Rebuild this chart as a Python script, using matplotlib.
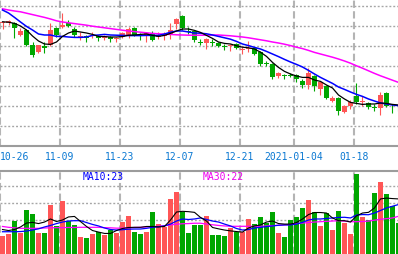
import numpy as np
import pandas as pd
import matplotlib
matplotlib.use("Agg")
import matplotlib.pyplot as plt
from matplotlib.transforms import blended_transform_factory

# trading days 2020-10-26 .. 2021-01-27 (2021-01-01 closed)
days = pd.bdate_range("2020-10-26", "2021-01-27")
days = days[days != pd.Timestamp("2021-01-01")]

open_ = [16.15, 16.15, 16.15, 15.55, 15.80, 15.05, 14.70, 15.00, 15.05, 15.90,
         15.97, 16.15, 15.85, 15.47, 15.50, 15.52, 15.50, 15.42, 15.45, 15.37,
         15.45, 15.55, 15.90, 15.57, 15.50, 15.60, 15.47, 15.50, 15.55, 16.10,
         16.50, 15.75, 15.75, 15.20, 15.15, 15.20, 15.15, 15.00, 15.00, 15.10,
         14.82, 14.87, 14.90, 14.70, 14.17, 14.10, 13.50, 13.57, 13.57, 13.55,
         13.27, 13.05, 13.50, 12.85, 13.00, 12.27, 12.40, 11.70, 12.00, 12.50,
         12.20, 12.17, 11.95, 11.92, 12.65, 11.92, 11.87]
close = [16.20, 16.25, 15.90, 15.75, 15.05, 14.55, 15.05, 14.90, 15.80, 15.55,
         16.05, 16.00, 15.55, 15.50, 15.40, 15.55, 15.40, 15.50, 15.35, 15.40,
         15.65, 15.85, 15.55, 15.52, 15.65, 15.30, 15.50, 15.60, 15.80, 16.35,
         15.90, 15.70, 15.30, 15.17, 15.35, 15.15, 15.00, 14.97, 15.02, 14.90,
         14.85, 14.90, 14.60, 14.10, 14.12, 13.45, 13.65, 13.52, 13.52, 13.35,
         13.07, 13.65, 13.00, 13.20, 12.40, 12.40, 11.75, 12.00, 12.20, 12.20,
         12.22, 11.95, 11.92, 12.55, 12.00, 11.88, 11.83]
high = [16.25, 16.30, 16.20, 15.90, 15.85, 15.20, 15.05, 15.20, 16.15, 15.95,
        16.65, 16.30, 15.95, 15.70, 15.55, 15.70, 15.55, 15.55, 15.50, 15.45,
        15.70, 15.95, 15.95, 15.65, 15.70, 15.75, 15.70, 15.70, 16.15, 16.40,
        16.55, 15.95, 15.75, 15.35, 15.40, 15.35, 15.20, 15.10, 15.10, 15.15,
        14.95, 15.25, 14.95, 14.75, 14.25, 14.15, 13.70, 13.60, 13.65, 13.60,
        13.35, 13.90, 13.55, 13.25, 13.05, 12.50, 12.45, 12.05, 12.30, 13.15,
        12.50, 12.20, 12.10, 12.70, 12.70, 12.10, 11.95]
low = [15.85, 16.05, 15.40, 15.50, 15.00, 14.45, 14.65, 14.65, 15.00, 15.45,
       15.90, 15.95, 15.45, 15.30, 15.20, 15.40, 15.25, 15.30, 15.20, 15.20,
       15.40, 15.40, 15.50, 15.30, 15.20, 15.25, 15.35, 15.30, 15.35, 15.85,
       15.80, 15.60, 15.20, 15.05, 14.85, 15.00, 14.95, 14.80, 14.75, 14.85,
       14.60, 14.70, 14.55, 14.00, 14.00, 13.35, 13.40, 13.35, 13.45, 13.20,
       12.90, 12.85, 12.75, 12.55, 12.35, 12.20, 11.55, 11.65, 11.85, 12.10,
       12.00, 11.85, 11.75, 11.55, 11.95, 11.65, 11.75]

ma5 = [16.21, 16.19, 16.13, 16.00, 15.80, 15.50, 15.25, 15.10, 15.08, 15.20,
       15.48, 15.65, 15.75, 15.70, 15.65, 15.58, 15.48, 15.47, 15.45, 15.45,
       15.47, 15.54, 15.55, 15.58, 15.60, 15.53, 15.48, 15.53, 15.63, 15.75,
       15.85, 15.85, 15.78, 15.68, 15.53, 15.38, 15.20, 15.13, 15.10, 15.01,
       14.94, 14.91, 14.85, 14.69, 14.48, 14.18, 13.93, 13.73, 13.60, 13.50,
       13.43, 13.43, 13.30, 13.23, 13.05, 12.90, 12.55, 12.35, 12.18, 12.13,
       12.08, 12.10, 12.10, 12.15, 12.13, 12.08, 12.05]
ma10 = [16.80, 16.65, 16.43, 16.20, 15.98, 15.80, 15.60, 15.55, 15.55, 15.48,
        15.48, 15.45, 15.43, 15.43, 15.45, 15.53, 15.55, 15.58, 15.55, 15.54,
        15.53, 15.52, 15.52, 15.52, 15.53, 15.53, 15.53, 15.60, 15.69, 15.75,
        15.75, 15.70, 15.65, 15.64, 15.61, 15.55, 15.48, 15.41, 15.34, 15.23,
        15.10, 15.02, 14.93, 14.85, 14.73, 14.60, 14.47, 14.33, 14.20, 14.08,
        13.95, 13.78, 13.60, 13.43, 13.28, 13.13, 12.95, 12.83, 12.70, 12.58,
        12.48, 12.35, 12.25, 12.15, 12.10, 12.05, 12.02]
ma30 = [16.86, 16.80, 16.75, 16.71, 16.64, 16.57, 16.50, 16.43, 16.35, 16.26,
        16.20, 16.16, 16.12, 16.08, 16.04, 15.99, 15.95, 15.91, 15.87, 15.83,
        15.79, 15.75, 15.72, 15.69, 15.66, 15.63, 15.61, 15.59, 15.58, 15.56,
        15.55, 15.54, 15.54, 15.54, 15.54, 15.55, 15.55, 15.53, 15.51, 15.48,
        15.45, 15.41, 15.36, 15.31, 15.26, 15.20, 15.15, 15.09, 15.02, 14.94,
        14.87, 14.78, 14.68, 14.60, 14.52, 14.44, 14.35, 14.25, 14.14, 14.01,
        13.89, 13.76, 13.63, 13.51, 13.40, 13.29, 13.18]

volume = [10.6, 11.8, 19.4, 12.4, 25.9, 23.5, 12.4, 12.4, 28.8, 16.5,
          31.2, 19.4, 17.1, 10.0, 9.4, 11.8, 12.9, 11.0, 14.1, 12.2,
          18.8, 22.4, 13.1, 11.8, 12.9, 24.9, 17.6, 16.1, 32.5, 36.6,
          24.7, 12.5, 17.1, 17.1, 22.4, 11.2, 11.2, 10.6, 15.3, 12.9,
          12.9, 20.6, 17.6, 21.8, 18.2, 24.7, 12.4, 10.0, 20.0, 21.8,
          27.1, 31.8, 24.7, 16.5, 24.1, 14.1, 25.3, 18.2, 11.8, 47.1,
          21.8, 20.0, 35.9, 42.4, 35.3, 28.2, 18.2]
vma5 = [14.4, 13.8, 14.4, 15.9, 18.2, 18.6, 17.9, 18.8, 20.6, 19.1,
        20.0, 21.8, 22.1, 19.1, 16.2, 13.8, 12.9, 12.1, 12.1, 13.8,
        15.0, 15.6, 15.7, 15.7, 16.2, 16.2, 15.9, 16.2, 20.0, 24.7,
        25.1, 24.9, 24.5, 21.5, 19.4, 15.6, 14.8, 14.1, 13.6, 13.2,
        12.9, 15.3, 16.5, 17.1, 18.8, 19.4, 17.9, 17.6, 17.6, 18.5,
        20.6, 23.2, 24.4, 24.4, 24.1, 21.2, 19.6, 19.6, 18.8, 22.4,
        24.1, 24.5, 27.1, 32.4, 32.9, 32.6, 32.4]
vma10 = [13.1, 13.1, 13.1, 13.2, 13.5, 14.1, 14.8, 15.9, 16.8, 17.9,
         18.8, 19.4, 19.6, 19.6, 18.5, 17.4, 16.5, 15.3, 14.4, 14.1,
         14.3, 14.6, 14.7, 14.7, 15.1, 15.7, 16.0, 16.6, 17.6, 19.4,
         20.6, 20.3, 20.6, 21.2, 20.3, 19.4, 18.8, 17.6, 16.5, 15.0,
         14.1, 14.4, 15.3, 15.7, 16.1, 16.5, 16.9, 17.1, 17.1, 17.6,
         18.6, 20.0, 20.6, 20.6, 20.9, 21.2, 21.5, 21.6, 21.2, 22.9,
         23.2, 23.1, 24.1, 25.6, 27.1, 28.1, 29.1]
vma30 = [16.2, 15.7, 15.4, 15.1, 15.1, 15.1, 15.1, 15.3, 15.4, 15.5,
         15.5, 15.6, 15.6, 15.7, 15.7, 15.7, 15.7, 15.5, 15.4, 15.2,
         15.2, 15.4, 15.6, 15.7, 15.9, 16.1, 16.3, 16.6, 17.1, 17.5,
         17.8, 17.9, 18.1, 18.1, 17.6, 17.2, 16.8, 16.5, 16.3, 16.3,
         16.3, 16.3, 16.3, 16.3, 16.5, 16.7, 16.9, 17.1, 17.4, 17.9,
         18.2, 18.5, 18.8, 19.0, 19.2, 19.4, 19.6, 19.3, 19.0, 19.0,
         19.1, 19.4, 19.9, 20.4, 20.8, 21.2, 22.2]

tick_days = ["2020-10-26", "2020-11-09", "2020-11-23", "2020-12-07",
             "2020-12-21", "2021-01-04", "2021-01-18"]
tick_text = ["10-26", "11-09", "11-23", "12-07", "12-21", "2021-01-04", "01-18"]

RED = "#ff5656"
GREEN = "#00a600"
GRID = "#a6a6a6"
W, H = 398, 255

fig = plt.figure(figsize=(W / 100, H / 100), dpi=100)
fig.patch.set_facecolor("white")
ax = fig.add_axes([0, 108 / H, 1, 147 / H])
axv = fig.add_axes([0, 0, 1, 83 / H])

x = np.arange(len(days))
o = np.array(open_); c = np.array(close)
up = c >= o
cols = np.where(up, RED, GREEN)
xl = (-2.5 / 6, (W - 2.5) / 6)
tick_idx = [days.get_loc(pd.Timestamp(d)) for d in tick_days]

for a in (ax, axv):
    a.set_xlim(*xl)
    a.set_xticks([])
    a.set_yticks([])
    for s in a.spines.values():
        s.set_visible(False)
    for t in tick_idx:
        a.axvline(t - 2.5 / 6, color="#b4b4b4", lw=1.5, ls=(0, (3.5, 1.6)), zorder=0)

# price panel
ax.set_ylim(10.0, 17.35)
for g in range(11, 18):
    ax.axhline(g, color=GRID, lw=1.0, ls=(0, (1.4, 1.4)), zorder=0)
ax.spines["bottom"].set_visible(True)
ax.spines["bottom"].set_color("#9c9c9c")
ax.spines["bottom"].set_linewidth(1.5)

ax.vlines(x, low, high, colors=cols, lw=0.8, zorder=2)
ax.bar(x, np.maximum(np.abs(c - o), 0.04), bottom=np.minimum(o, c), width=5 / 6,
       color=cols, linewidth=0, zorder=3)
ax.plot(x, ma30, color="#ff00ff", lw=1.1, zorder=4)
ax.plot(x, ma10, color="#0000ff", lw=1.1, zorder=5)
ax.plot(x, ma5, color="black", lw=0.9, zorder=6)

# date labels
tr = blended_transform_factory(ax.transData, fig.transFigure)
for t, s in zip(tick_idx, tick_text):
    ha = "left" if t == 0 else "center"
    xp = xl[0] if t == 0 else t - 2.5 / 6
    fig.text(xp, 1 - 160.5 / H, s, transform=tr, ha=ha, va="baseline",
             family="DejaVu Sans Mono", size=7, color="#0a78d2")

# volume panel
axv.set_ylim(0, 83 / 1.7)
for g in (20, 30, 40):
    axv.axhline(g, color=GRID, lw=1.0, ls=(0, (1.4, 1.4)), zorder=0)
axv.spines["top"].set_visible(True)
axv.spines["top"].set_color("#9c9c9c")
axv.spines["top"].set_linewidth(1.5)
axv.bar(x, volume, width=5 / 6, color=cols, linewidth=0, zorder=2)
axv.plot(x, vma30, color="#ff00ff", lw=0.9, zorder=3)
axv.plot(x, vma10, color="#0000ff", lw=0.9, zorder=4)
axv.plot(x, vma5, color="black", lw=0.8, zorder=5)

fig.text(82.5 / W, 1 - 180.5 / H, "MA10:23", family="DejaVu Sans Mono", size=7,
         color="#0000ff", va="baseline")
fig.text(202.5 / W, 1 - 180.5 / H, "MA30:22", family="DejaVu Sans Mono", size=7,
         color="#ee00ee", va="baseline")

fig.savefig("out.png", dpi=100, facecolor="white")
